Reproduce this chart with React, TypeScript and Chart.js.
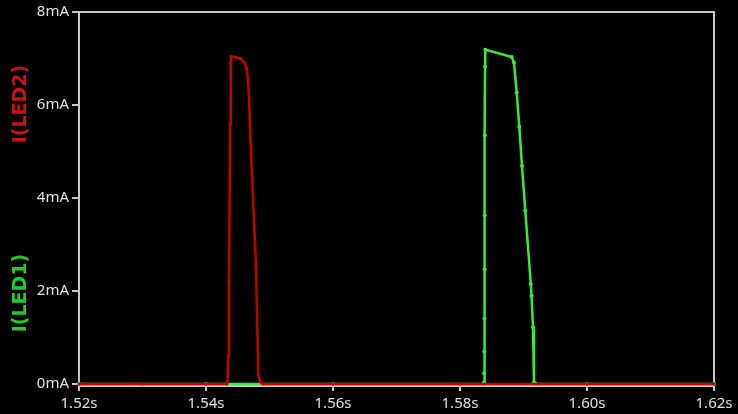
import { useEffect, useRef } from "react";
import { Chart, registerables } from "chart.js";

Chart.register(...registerables);

// I(LED2) trace, time in seconds, current in mA
const led2Time = [
  1.52, 1.53, 1.54, 1.5433, 1.5434, 1.54352, 1.54362, 1.54372, 1.54382, 1.5439,
  1.54397, 1.54472, 1.54551, 1.54606, 1.54641, 1.54666, 1.54709, 1.54787, 1.54824,
  1.5485, 1.54882, 1.549, 1.56, 1.58, 1.6, 1.62,
];
const led2Current = [
  0, 0, 0, 0, 0.05, 0.6, 2.2, 3.9, 5.6, 6.9,
  7.05, 7.03, 7.0, 6.91, 6.78, 6.48, 4.99, 2.54, 0.19,
  0.06, 0.01, 0, 0, 0, 0, 0,
];

// I(LED1) trace
const led1Time = [
  1.52, 1.54, 1.56, 1.5837, 1.5838, 1.58382, 1.58384, 1.58386, 1.58388, 1.5839,
  1.58392, 1.58395, 1.58398, 1.58814, 1.5885, 1.58893, 1.58934, 1.58976, 1.59028,
  1.59115, 1.59126, 1.5915, 1.59165, 1.592, 1.6, 1.62,
];
const led1Current = [
  0, 0, 0, 0, 0.04, 0.23, 0.7, 1.41, 2.47, 3.63,
  5.35, 6.83, 7.19, 7.03, 6.91, 6.27, 5.53, 4.69, 3.73,
  2.15, 1.9, 1.22, 0.04, 0, 0, 0,
];

const xTicks = [1.52, 1.54, 1.56, 1.58, 1.6, 1.62];

const axisColor = "#c8c8c8";
const labelColor = "#e0e0e0";
const redLine = "#c40000";
const greenLine = "#33ee33";

const framePlugin = {
  id: "frame",
  beforeDatasetsDraw(chart: Chart) {
    const { ctx, chartArea } = chart;
    const { left, right, top, bottom } = chartArea;
    ctx.save();
    ctx.strokeStyle = axisColor;
    ctx.lineWidth = 2;
    ctx.beginPath();
    ctx.moveTo(left, bottom + 2);
    ctx.lineTo(left, top);
    ctx.lineTo(right, top);
    ctx.lineTo(right, bottom + 2);
    ctx.lineTo(left - 1, bottom + 2);
    ctx.stroke();
    ctx.restore();
  },
  afterDraw(chart: Chart) {
    const { ctx } = chart;
    const titles: [string, string, number][] = [
      ["I(LED2)", "#cc1111", 104],
      ["I(LED1)", "#22cc22", 293],
    ];
    titles.forEach(([text, color, cy]) => {
      ctx.save();
      ctx.font = "bold 19px 'DejaVu Sans'";
      ctx.textAlign = "center";
      ctx.textBaseline = "middle";
      ctx.translate(21, cy);
      ctx.rotate(-Math.PI / 2);
      ctx.fillStyle = color;
      ctx.fillText(text, 0, 0);
      ctx.restore();
    });
  },
};

export default function App() {
  const canvasRef = useRef<HTMLCanvasElement>(null);
  const chartRef = useRef<Chart | null>(null);

  useEffect(() => {
    if (!canvasRef.current) return;
    if (chartRef.current) chartRef.current.destroy();

    const tickFont = { family: "'Noto Sans'", size: 15 };

    chartRef.current = new Chart(canvasRef.current, {
      type: "line",
      data: {
        datasets: [
          {
            label: "I(LED2)",
            data: led2Time.map((t, i) => ({ x: t, y: led2Current[i] })),
            borderColor: redLine,
            backgroundColor: redLine,
            borderWidth: 2.5,
            pointRadius: 1.5,
            pointBorderWidth: 0,
            tension: 0,
            clip: false,
          },
          {
            label: "I(LED1)",
            data: led1Time.map((t, i) => ({ x: t, y: led1Current[i] })),
            borderColor: greenLine,
            backgroundColor: greenLine,
            borderWidth: 2.5,
            pointRadius: 2,
            pointBorderWidth: 0,
            tension: 0,
            clip: false,
          },
        ],
      },
      options: {
        animation: false,
        responsive: true,
        maintainAspectRatio: false,
        layout: { padding: { left: 0, right: 24, top: 10, bottom: 0 } },
        plugins: {
          legend: { display: false },
          tooltip: { enabled: false },
        },
        scales: {
          x: {
            type: "linear",
            min: 1.52,
            max: 1.62,
            afterFit: (scale: any) => {
              scale.height = 30;
            },
            afterBuildTicks: (scale: any) => {
              scale.ticks = xTicks.map((v) => ({ value: v }));
            },
            ticks: {
              color: labelColor,
              font: tickFont,
              padding: 4,
              maxRotation: 0,
              callback: (v: any) => Number(v).toFixed(2) + "s",
            },
            grid: {
              display: true,
              drawOnChartArea: false,
              drawTicks: true,
              tickLength: 7,
              color: axisColor,
              lineWidth: 2,
            },
            border: { display: false },
          },
          y: {
            type: "linear",
            min: 0,
            max: 8,
            afterFit: (scale: any) => {
              scale.width = 79;
            },
            ticks: {
              stepSize: 2,
              color: labelColor,
              font: tickFont,
              padding: 3,
              callback: (v: any) => v + "mA",
            },
            grid: {
              display: true,
              drawOnChartArea: false,
              drawTicks: true,
              tickLength: 7,
              color: axisColor,
              lineWidth: 2,
            },
            border: { display: false },
          },
        },
      },
      plugins: [framePlugin],
    });

    return () => {
      if (chartRef.current) {
        chartRef.current.destroy();
        chartRef.current = null;
      }
    };
  }, []);

  return (
    <div
      style={{
        position: "fixed",
        left: 0,
        top: 0,
        width: 738,
        height: 414,
        background: "#000",
      }}
    >
      <canvas ref={canvasRef} />
    </div>
  );
}
